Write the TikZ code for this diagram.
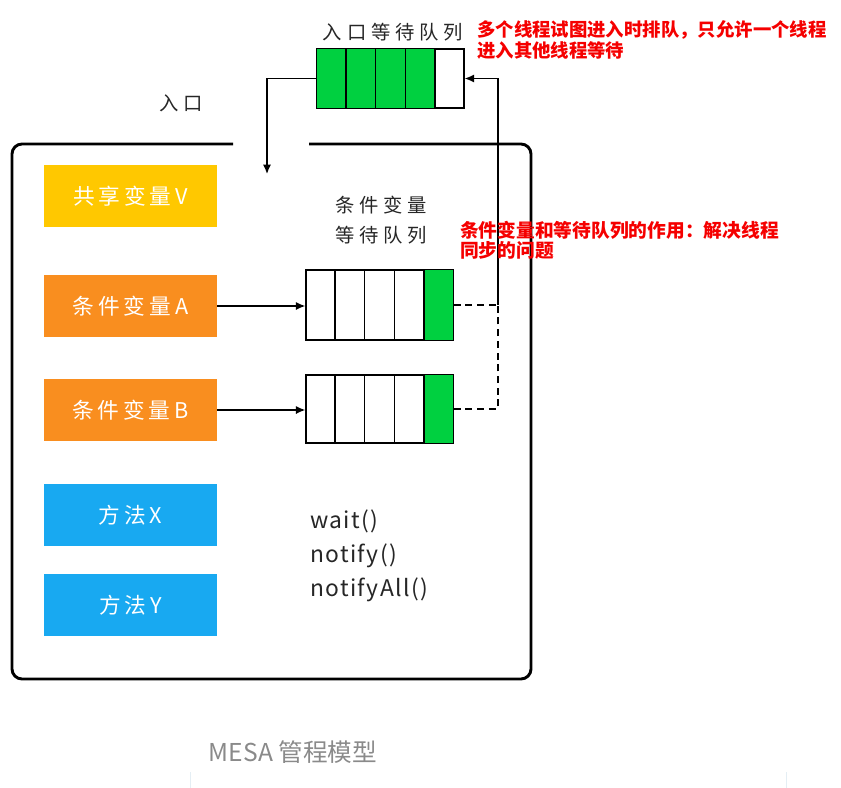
\documentclass[tikz,border=0pt]{standalone}
\usepackage{fontspec}
\setmainfont{Noto Sans CJK SC}
\usetikzlibrary{arrows.meta,calc}
\definecolor{qgreen}{HTML}{00D040}
\definecolor{vyellow}{HTML}{FFC800}
\definecolor{corange}{HTML}{F98E1F}
\definecolor{mblue}{HTML}{18A9F1}
\definecolor{capgray}{HTML}{8A8A8A}
\definecolor{notered}{HTML}{F50000}
\definecolor{faint}{HTML}{E4EEF4}
\tikzset{
  varbox/.style={minimum width=5.19cm, minimum height=1.86cm, inner sep=0pt, text=white,
    font=\fontsize{18.5}{20}\selectfont\addfontfeature{LetterSpace=18}},
  queuebox/.style={draw, line width=1.2pt, minimum width=4.41cm, inner sep=0pt},
  conn/.style={line width=1.2pt, -{Latex[length=8pt,width=7pt]}},
  dashconn/.style={line width=1.2pt, dash pattern=on 6pt off 4pt},
  frame/.style={line width=2.5pt, rounded corners=0.3cm},
  hand/.style={inner sep=0pt, text=black!85, font=\fontsize{16.5}{26}\selectfont\addfontfeature{LetterSpace=25}},
  note/.style={inner sep=0pt, anchor=west, align=left, text=notered},
  meth/.style={inner sep=0pt, anchor=west, text=black!85, font=\fontsize{19.5}{22}\selectfont\addfontfeature{LetterSpace=6}},
}
\begin{document}
\begin{tikzpicture}[x=0.03cm,y=-0.03cm]
\useasboundingbox (0,0) rectangle (841,788);

% main frame with gap for entrance
\draw[frame] (233,144) -- (12,144) -- (12,679) -- (531,679) -- (531,144) -- (309,144);

% variable boxes
\node[varbox, fill=vyellow] (V) at (130.5,196) {共享变量V};
\node[varbox, fill=corange] (A) at (130.5,306) {条件变量A};
\node[varbox, fill=corange] (B) at (130.5,410) {条件变量B};
\node[varbox, fill=mblue] (X) at (130.5,515) {方法X};
\node[varbox, fill=mblue] (Y) at (130.5,605) {方法Y};

% entry queue
\node[queuebox, minimum height=1.77cm] (eq) at (390.5,78.5) {};
\fill[qgreen] (eq.north west) rectangle ($(eq.south west)!0.8!(eq.south east)$);
\foreach \f in {0.2,0.4,0.6,0.8}
  \draw[line width=1.2pt] ($(eq.north west)!\f!(eq.north east)$) -- ($(eq.south west)!\f!(eq.south east)$);
\draw[line width=1.2pt] (eq.north west) rectangle (eq.south east);
\node[hand] (eqlabel) at (393,32) {入口等待队列};
\node[hand] (entry) at (181,103) {入口};

% condition queues
\node[queuebox, minimum height=2.1cm] (qa) at (379.5,305) {};
\node[queuebox, minimum height=2.04cm] (qb) at (379.5,409) {};
\foreach \q in {qa,qb}{
  \fill[qgreen] ($(\q.north west)!0.8!(\q.north east)$) rectangle (\q.south east);
  \foreach \f in {0.2,0.4,0.6,0.8}
    \draw[line width=1.2pt] ($(\q.north west)!\f!(\q.north east)$) -- ($(\q.south west)!\f!(\q.south east)$);
  \draw[line width=1.2pt] (\q.north west) rectangle (\q.south east);
}
\node[hand, align=center] (cqlabel) at (381,220) {条件变量\\等待队列};

% connectors
\coordinate (ein) at (267,174);
\draw[conn] (eq.west) -| (ein);
\draw[conn] (A.east) -- (qa.west |- A.east);
\draw[conn] (B.east) -- (qb.west |- B.east);
\coordinate (ja) at (498,305);
\coordinate (jb) at (498,409);
\coordinate (jt) at (498,78.5);
\draw[dashconn] (qb.east) -- (jb) -- (ja);
\draw[dashconn] (qa.east) -- (ja);
\draw[conn] (ja) -- (jt) -- (eq.east);

% methods
\node[meth] (w) at (310,521) {wait()};
\node[meth] (n) at (310,556) {notify()};
\node[meth] (na) at (310,590) {notifyAll()};

% red notes
\node[note, font=\bfseries\fontsize{15.7}{18}\selectfont] (n1) at (477,39.5)
  {多个线程试图进入时排队，只允许一个线程\\进入其他线程等待};
\node[note, font=\bfseries\fontsize{16}{17}\selectfont] (n2) at (460,240)
  {条件变量和等待队列的作用：解决线程\\同步的问题};

% caption
\node[inner sep=0pt, text=capgray, font=\fontsize{21}{24}\selectfont] (cap) at (293,752) {MESA 管程模型};
\draw[faint, line width=0.8pt] (190,772) -- (190,788);
\draw[faint, line width=0.8pt] (786,772) -- (786,788);
\end{tikzpicture}
\end{document}
